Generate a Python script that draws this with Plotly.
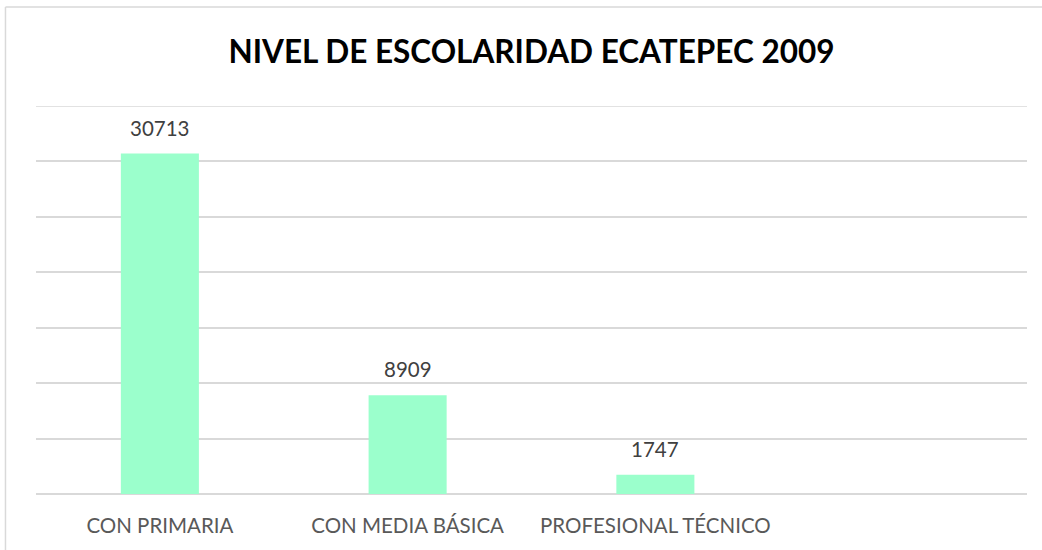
import plotly.graph_objects as go

categories = ["CON PRIMARIA", "CON MEDIA BÁSICA", "PROFESIONAL TÉCNICO", " "]
values = [30713, 8909, 1747, None]
labels = ["30713", "8909", "1747", ""]
title_text = "NIVEL DE ESCOLARIDAD ECATEPEC 2009"
y_max = 35000

bar_color = "#9bffcc"
grid_color = "#d9d9d9"

fig = go.Figure()
fig.add_trace(go.Bar(
    x=categories, y=values, marker=dict(color=bar_color, line=dict(width=0)),
    hoverinfo="skip",
))

for c, v, t in zip(categories, values, labels):
    if v is None:
        continue
    fig.add_annotation(x=c, y=v, text=t, showarrow=False, yanchor="bottom",
                       yshift=12, font=dict(family="Lato", size=20.5, color="#404040"))

# top gridline at the axis maximum
fig.add_shape(type="line", xref="paper", yref="y", x0=0, x1=1, y0=y_max, y1=y_max,
              line=dict(color=grid_color, width=1.5), layer="below")

# outer frame (left and top edges visible)
fig.add_shape(type="line", xref="paper", yref="paper", x0=-0.0308, x1=-0.0308,
              y0=1.2552, y1=-0.2, line=dict(color=grid_color, width=1.5))
fig.add_shape(type="line", xref="paper", yref="paper", x0=-0.0308, x1=1.03,
              y0=1.2552, y1=1.2552, line=dict(color=grid_color, width=1.5))

fig.update_layout(
    width=1042, height=550,
    margin=dict(l=36, r=15, t=106, b=56),
    paper_bgcolor="white", plot_bgcolor="white",
    bargap=0.685,
    showlegend=False,
    title=dict(text="<b>" + title_text + "</b>", x=0.5, xref="paper", y=0.9055,
               yanchor="middle", xanchor="center",
               font=dict(family="Lato", size=31.5, color="#000000")),
    xaxis=dict(showgrid=False, showline=False, zeroline=False,
               tickfont=dict(family="Lato", size=20.5, color="#595959"),
               ticks="", ticklabelstandoff=17),
    yaxis=dict(range=[0, y_max], dtick=5000, showticklabels=False,
               showgrid=True, gridcolor=grid_color, gridwidth=1.5,
               zeroline=True, zerolinecolor=grid_color, zerolinewidth=1.5,
               showline=False),
)

fig.write_html("out.html", config={"displayModeBar": False},
               post_script="document.body.style.margin='0';")
